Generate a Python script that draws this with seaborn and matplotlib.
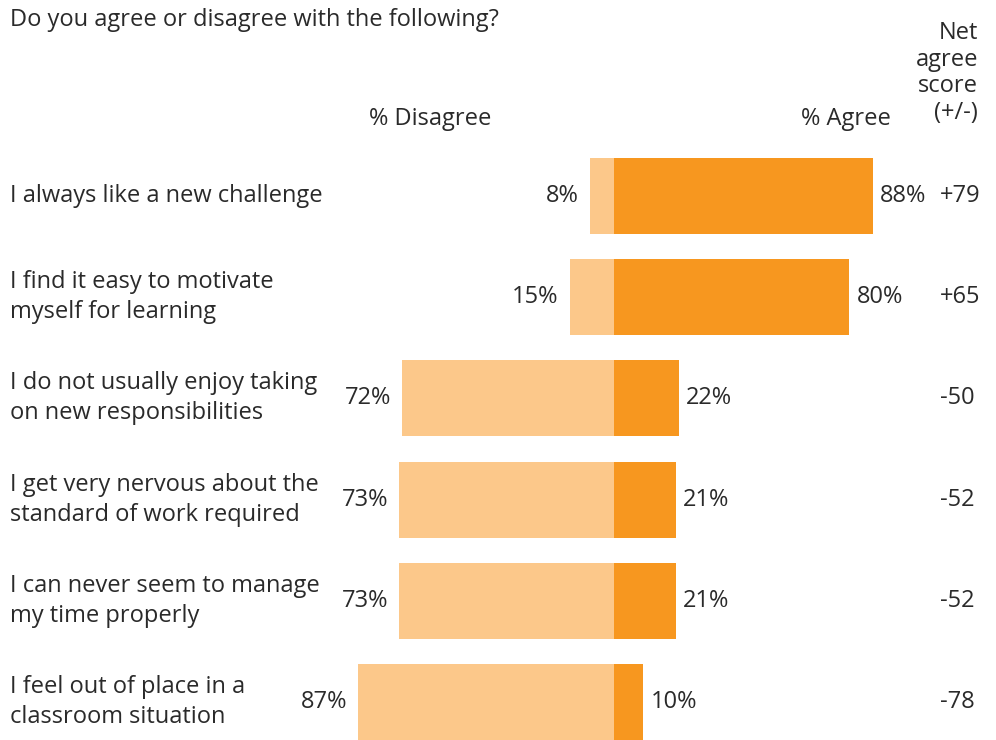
import matplotlib
matplotlib.use("Agg")
import matplotlib.pyplot as plt
import seaborn as sns
import pandas as pd

# Survey statements and responses
statements = [
    "I always like a new challenge",
    "I find it easy to motivate\nmyself for learning",
    "I do not usually enjoy taking\non new responsibilities",
    "I get very nervous about the\nstandard of work required",
    "I can never seem to manage\nmy time properly",
    "I feel out of place in a\nclassroom situation",
]
disagree = [8, 15, 72, 73, 73, 87]
agree = [88, 80, 22, 21, 21, 10]
net_score = ["+79", "+65", "-50", "-52", "-52", "-78"]

AGREE_COLOR = "#F7971F"
DISAGREE_COLOR = "#FCC88A"
TEXT_COLOR = "#2a2a2a"

sns.set_theme(style="white")
plt.rcParams["font.family"] = ["Open Sans", "DejaVu Sans"]

df = pd.DataFrame({
    "statement": statements,
    "disagree": [-d for d in disagree],
    "agree": agree,
})

fig = plt.figure(figsize=(9.96, 7.40), dpi=100)
ax = fig.add_axes([0, 0, 1, 1])

sns.barplot(data=df, x="disagree", y="statement", orient="h",
            color=DISAGREE_COLOR, width=0.75, saturation=1, linewidth=0, ax=ax)
sns.barplot(data=df, x="agree", y="statement", orient="h",
            color=AGREE_COLOR, width=0.75, saturation=1, linewidth=0, ax=ax)

ax.set_xlim(-208.8, 130.0)
ax.set_ylim(5.375, -1.937)
ax.set_axis_off()

fs = 17
ytr = ax.get_yaxis_transform()
for i, (s, d, a, n) in enumerate(zip(statements, disagree, agree, net_score)):
    ax.text(0.010, i, s, transform=ytr, ha="left", va="center",
            fontsize=fs, color=TEXT_COLOR, linespacing=1.34)
    ax.text(-d - 3.8, i, f"{d}%", ha="right", va="center",
            fontsize=fs, color=TEXT_COLOR)
    ax.text(a + 2.6, i, f"{a}%", ha="left", va="center",
            fontsize=fs, color=TEXT_COLOR)
    ax.text(0.944, i, n, transform=ytr, ha="left", va="center",
            fontsize=fs, color=TEXT_COLOR)

fig.text(0.010, 1 - 20 / 740, "Do you agree or disagree with the following?",
         ha="left", va="center", fontsize=fs, color=TEXT_COLOR)
fig.text(430 / 996, 1 - 119 / 740, "% Disagree", ha="center", va="center",
         fontsize=fs, color=TEXT_COLOR)
fig.text(846 / 996, 1 - 119 / 740, "% Agree", ha="center", va="center",
         fontsize=fs, color=TEXT_COLOR)
fig.text(978 / 996, 1 - 73 / 740, "Net\nagree\nscore\n(+/-)", ha="right",
         va="center", fontsize=fs, color=TEXT_COLOR, linespacing=1.13)

fig.savefig("out.png", dpi=100)
